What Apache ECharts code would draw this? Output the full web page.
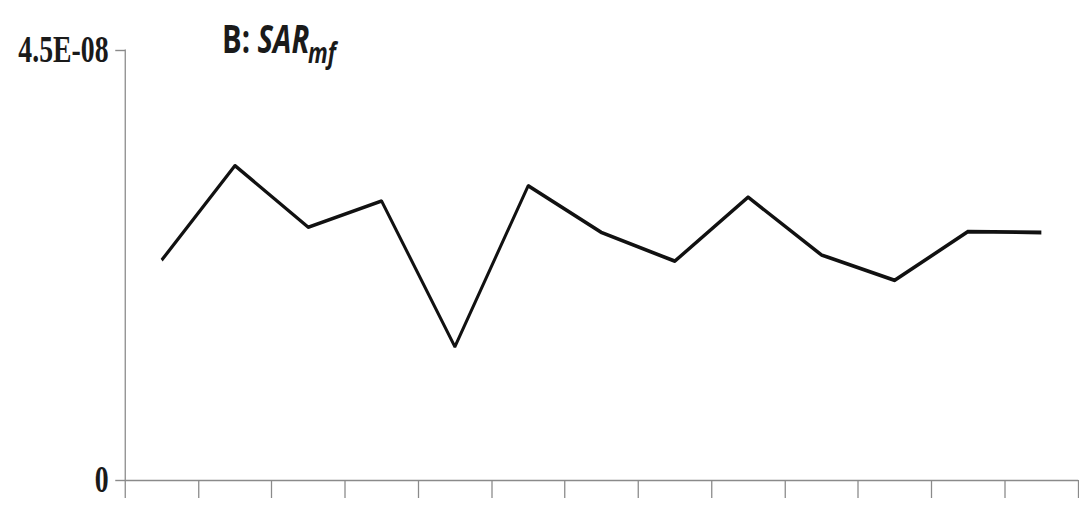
<!DOCTYPE html>
<html>
<head>
<meta charset="utf-8">
<script src="https://cdn.jsdelivr.net/npm/echarts@6/dist/echarts.min.js"></script>
<style>
  html, body { margin: 0; padding: 0; background: #fff; overflow: hidden; }
  #wrap { width: 1079px; height: 506px; overflow: hidden; }
  /* the figure is laid out wide and then narrowed horizontally */
  #chart { width: 1439px; height: 506px; transform: scaleX(0.75); transform-origin: 0 0; }
</style>
</head>
<body>
<div id="wrap"><div id="chart"></div></div>
<script>
// Sample positions along the x axis (no labels drawn)
var categories = ['1', '2', '3', '4', '5', '6', '7', '8', '9', '10', '11', '12', '13'];
// SAR_mf values
var sarValues = [2.30e-8, 3.29e-8, 2.645e-8, 2.92e-8, 1.395e-8, 3.08e-8, 2.59e-8,
                 2.29e-8, 2.96e-8, 2.355e-8, 2.09e-8, 2.60e-8, 2.59e-8];
// y-axis tick labels, bottom to top
var yTickLabels = ['0', '4.5E-08'];
var yMax = 4.5e-8;

var SX = 0.75;            // horizontal squeeze applied by CSS
var axisGray = '#8a8a8a';

var chart = echarts.init(document.getElementById('chart'), null, { renderer: 'svg' });
chart.setOption({
  animation: false,
  backgroundColor: '#ffffff',
  grid: { left: 125 / SX, width: 953 / SX, top: 50, height: 430, containLabel: false },
  xAxis: {
    type: 'category',
    data: categories,
    boundaryGap: true,
    axisLine: { lineStyle: { color: axisGray, width: 1.4 } },
    axisTick: { show: true, length: 18, alignWithLabel: false, lineStyle: { color: axisGray, width: 1.7 } },
    axisLabel: { show: false },
    splitLine: { show: false }
  },
  yAxis: {
    type: 'value',
    min: 0,
    max: yMax,
    interval: yMax,
    axisLine: { show: true, lineStyle: { color: axisGray, width: 1.7 } },
    axisTick: { show: true, length: 13, lineStyle: { color: axisGray, width: 1.4 } },
    splitLine: { show: false },
    axisLabel: {
      margin: 22,
      fontFamily: '"Liberation Serif", "DejaVu Serif", serif',
      fontWeight: 'bold',
      fontSize: 37,
      color: '#1a1a1a',
      formatter: function (v, i) { return yTickLabels[i]; }
    }
  },
  graphic: [
    {
      type: 'text',
      x: 222 / SX,
      y: 38,
      style: {
        text: '{a|B: }{b|SAR}',
        verticalAlign: 'middle',
        rich: {
          a: { fontFamily: '"Open Sans", sans-serif', fontWeight: 'bold', fontSize: 39, fill: '#1a1a1a' },
          b: { fontFamily: '"Open Sans", sans-serif', fontWeight: 'bold', fontStyle: 'italic', fontSize: 39, fill: '#1a1a1a' }
        }
      }
    },
    {
      type: 'text',
      x: 308 / SX,
      y: 52,
      style: {
        text: 'mf',
        verticalAlign: 'middle',
        fontFamily: '"Open Sans", sans-serif',
        fontWeight: 'bold',
        fontStyle: 'italic',
        fontSize: 29,
        fill: '#1a1a1a'
      }
    }
  ],
  series: [{
    type: 'line',
    data: sarValues,
    showSymbol: false,
    symbol: 'none',
    lineStyle: { color: '#111111', width: 3.8 },
    z: 5
  }]
});
</script>
</body>
</html>
